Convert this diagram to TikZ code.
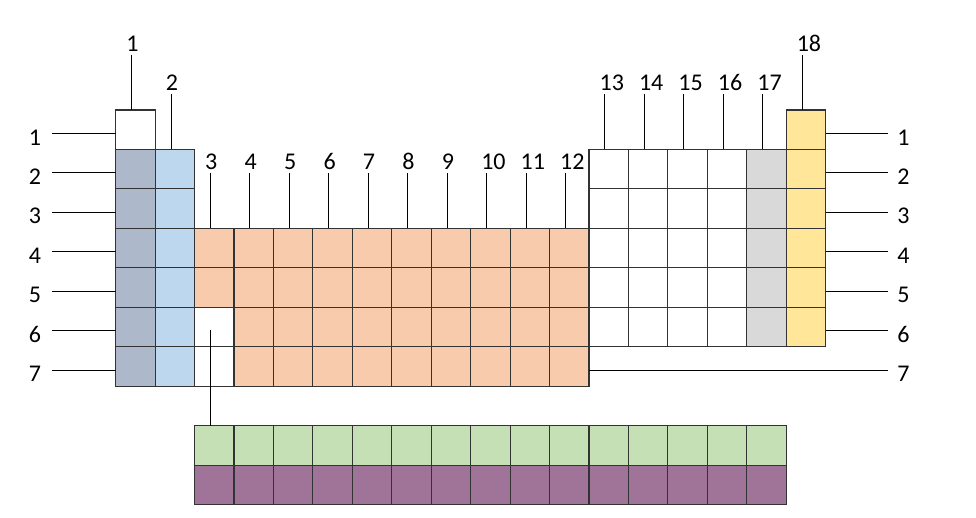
\documentclass[tikz,border=0pt]{standalone}
\usepackage{fontspec}
\setmainfont{Carlito}
\usetikzlibrary{calc}
\definecolor{grpOne}{HTML}{ADB9CA}
\definecolor{grpTwo}{HTML}{BDD7EE}
\definecolor{trans}{HTML}{F8CBAD}
\definecolor{halo}{HTML}{D9D9D9}
\definecolor{noble}{HTML}{FFE699}
\definecolor{lanth}{HTML}{C5E0B4}
\definecolor{actin}{HTML}{A07498}

\begin{document}
\begin{tikzpicture}[x=1pt,y=-1pt,
  cell/.style={draw=black!80,line width=1.1pt,minimum size=39.44pt,inner sep=0pt,outer sep=0pt},
  lab/.style={font=\fontsize{24}{28}\selectfont,inner sep=0pt},
  tick/.style={line width=0.9pt}]
\useasboundingbox (0,0) rectangle (976,517);
\node[cell,fill=white] (c1-1) at ({115.7+0.5*39.44},{110+0.5*39.44}) {};
\node[cell,fill=noble] (c18-1) at ({115.7+17.5*39.44},{110+0.5*39.44}) {};
\foreach \r in {2,...,7} {
  \node[cell,fill=grpOne] (c1-\r) at ({115.7+0.5*39.44},{110+(\r-0.5)*39.44}) {};
  \node[cell,fill=grpTwo] (c2-\r) at ({115.7+1.5*39.44},{110+(\r-0.5)*39.44}) {};
}
\foreach \r in {2,...,6} {
  \foreach \c in {13,...,16}
    \node[cell,fill=white] (c\c-\r) at ({115.7+(\c-0.5)*39.44},{110+(\r-0.5)*39.44}) {};
  \node[cell,fill=halo] (c17-\r) at ({115.7+16.5*39.44},{110+(\r-0.5)*39.44}) {};
  \node[cell,fill=noble] (c18-\r) at ({115.7+17.5*39.44},{110+(\r-0.5)*39.44}) {};
}
\foreach \r in {4,5}
  \foreach \c in {3,...,12}
    \node[cell,fill=trans] (c\c-\r) at ({115.7+(\c-0.5)*39.44},{110+(\r-0.5)*39.44}) {};
\foreach \r in {6,7} {
  \node[cell,fill=white] (c3-\r) at ({115.7+2.5*39.44},{110+(\r-0.5)*39.44}) {};
  \foreach \c in {4,...,12}
    \node[cell,fill=trans] (c\c-\r) at ({115.7+(\c-0.5)*39.44},{110+(\r-0.5)*39.44}) {};
}
\foreach \c in {3,...,17} {
  \node[cell,fill=lanth] (la\c) at ({115.7+(\c-0.5)*39.44},445.4) {};
  \node[cell,fill=actin] (ac\c) at ({115.7+(\c-0.5)*39.44},484.8) {};
}
\foreach \g/\t in {1/1,2/2,3/4,4/4,5/4,6/4,7/4,8/4,9/4,10/4,11/4,12/4,13/2,14/2,15/2,16/2,17/2,18/1} {
  \coordinate (t\g) at ({115.7+(\g-0.5)*39.44-3.8},{110+(\t-1)*39.44-55});
  \node[lab,anchor=base west] (g\g) at ($(t\g)+(-5.5,-4)$) {\g};
  \draw[tick] (t\g) -- (t\g |- c\g-\t.north);
}
\foreach \r in {1,...,7} {
  \coordinate (pl\r) at (51.7,{110+(\r-0.5)*39.44+3.6});
  \coordinate (pr\r) at (888.3,{110+(\r-0.5)*39.44+3.6});
  \draw[tick] (pl\r) -- (pl\r -| c1-\r.west);
  \node[lab,anchor=base] (pL\r) at ($(pl\r)+(-16.7,11.7)$) {\r};
  \node[lab,anchor=base] (pR\r) at ($(pr\r)+(15.2,11.7)$) {\r};
}
\foreach \r in {1,...,6}
  \draw[tick] (c18-\r.east |- pr\r) -- (pr\r);
\draw[tick] (c12-7.east |- pr7) -- (pr7);
\coordinate (fb) at ($(c3-6.center)+(-3.6,3)$);
\draw[tick] (fb) -- (fb |- la3.north);
\end{tikzpicture}
\end{document}
